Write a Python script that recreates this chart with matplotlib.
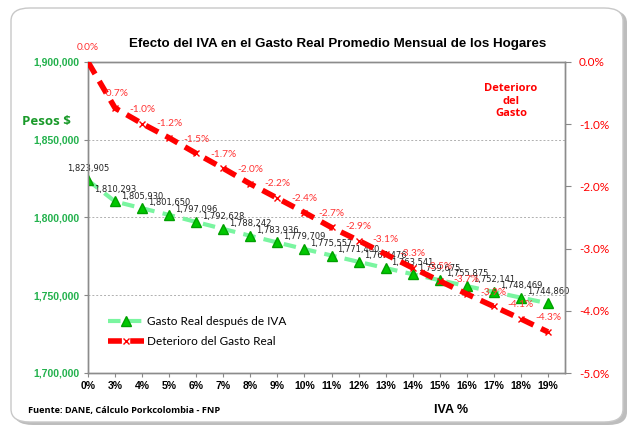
import matplotlib
matplotlib.use("Agg")

import matplotlib.pyplot as plt
from matplotlib.patches import FancyBboxPatch
from matplotlib.ticker import FuncFormatter

# =====================
# Datos
# =====================
iva = ["0%", "3%", "4%", "5%", "6%", "7%", "8%", "9%", "10%",
       "11%", "12%", "13%", "14%", "15%", "16%", "17%", "18%", "19%"]
gasto_real = [1823905, 1810293, 1805930, 1801650, 1797096, 1792628,
              1788242, 1783936, 1779709, 1775557, 1771480, 1767476,
              1763541, 1759675, 1755875, 1752141, 1748469, 1744860]
deterioro = [0.0, -0.74, -0.99, -1.22, -1.47, -1.71, -1.96, -2.19, -2.42,
             -2.66, -2.87, -3.09, -3.31, -3.52, -3.73, -3.93, -4.13, -4.34]

VERDE_TXT = "#22b14c"
VERDE_LINEA = "#7af5a0"
VERDE_MARCA = "#00c800"
ROJO = "#ff0000"
ROJO_TXT = "#ff3333"

x = list(range(len(iva)))

fig = plt.figure(figsize=(6.29, 4.29), dpi=100)

# marco redondeado
sombra = FancyBboxPatch((14 / 629, 4 / 429), 613 / 629, 415 / 429,
                        boxstyle="round,pad=0,rounding_size=0.03",
                        transform=fig.transFigure, fc="#bdbdbd", ec="none",
                        zorder=-3)
marco = FancyBboxPatch((11 / 629, 7 / 429), 612 / 629, 414 / 429,
                       boxstyle="round,pad=0,rounding_size=0.03",
                       transform=fig.transFigure, fc="white", ec="#c8c8c8",
                       lw=1, zorder=-2)
fig.patches.extend([sombra, marco])

ax = fig.add_axes([88 / 629, 1 - 373 / 429, 477 / 629, 311 / 429])
ax.set_facecolor("none")
ax2 = ax.twinx()

# --- eje izquierdo: pesos ---
ax.plot(x, gasto_real, linestyle=(0, (3, 2)), color=VERDE_LINEA, lw=3,
        marker="^", ms=7, mfc=VERDE_MARCA, mec="#00a000",
        label="Gasto Real después de IVA", zorder=3)
for xi, v in zip(x, gasto_real):
    ax.annotate(f"{v:,}", (xi, v), xytext=(0, 5.5), textcoords="offset points",
                ha="center", va="bottom", fontsize=6, color="#222222",
                family="DejaVu Sans", zorder=5)

ax.set_ylim(1700000, 1900000)
ax.set_yticks([1700000, 1750000, 1800000, 1850000, 1900000])
ax.yaxis.set_major_formatter(FuncFormatter(lambda v, p: f"{int(v):,}"))
ax.set_xlim(0, 17.63)
ax.set_xticks(x)
ax.set_xticklabels(iva)
for lab in ax.get_yticklabels():
    lab.set_color(VERDE_TXT)
    lab.set_fontweight("bold")
    lab.set_fontsize(7.5)
    lab.set_family("Liberation Sans")
for lab in ax.get_xticklabels():
    lab.set_fontweight("bold")
    lab.set_fontsize(7.5)
    lab.set_family("Liberation Sans")
ax.tick_params(axis="y", length=3, color="#888888", pad=3)
ax.tick_params(axis="x", length=3, color="#888888", pad=3)
ax.grid(axis="y", linestyle=(0, (2, 2)), color="#b0b0b0", lw=0.7)

# --- eje derecho: deterioro ---
ax2.plot(x, deterioro, linestyle=(0, (2.5, 1.5)), color=ROJO, lw=4,
         marker="x", ms=4, mec=ROJO, mew=1,
         label="Deterioro del Gasto Real", zorder=4)
for xi, v in zip(x, deterioro):
    ax2.annotate(f"{v:.1f}%", (xi, v), xytext=(0, 7), textcoords="offset points",
                 ha="center", va="bottom", fontsize=7.3, color=ROJO_TXT,
                 family="Lato", zorder=5)
ax2.set_ylim(-5, 0)
ax2.set_yticks([-5, -4, -3, -2, -1, 0])
ax2.yaxis.set_major_formatter(FuncFormatter(lambda v, p: f"{v:.1f}%"))
for lab in ax2.get_yticklabels():
    lab.set_color(ROJO)
    lab.set_fontsize(8.5)
    lab.set_family("Lato")
ax2.tick_params(axis="y", length=4, color="#888888", pad=6)

for a in (ax, ax2):
    for s in a.spines.values():
        s.set_color("#8c8c8c")
        s.set_linewidth(1)

# --- textos ---
fig.text(338 / 629, 1 - 44 / 429,
         "Efecto del IVA en el Gasto Real Promedio Mensual de los Hogares",
         ha="center", va="center", fontsize=9.6, fontweight="bold",
         family="Liberation Sans")
fig.text(46 / 629, 1 - 122 / 429, "Pesos $", ha="center", va="center",
         fontsize=9.5, fontweight="bold", color="#1a9a2a", family="Open Sans")
fig.text(511 / 629, 1 - 101 / 429, "Deterioro\ndel\nGasto", ha="center",
         va="center", fontsize=8, fontweight="bold", color=ROJO,
         family="Open Sans", linespacing=1.2)
fig.text(451 / 629, 1 - 410 / 429, "IVA %", ha="center", va="center",
         fontsize=9, fontweight="bold", family="Liberation Sans")
fig.text(28 / 629, 1 - 410 / 429, "Fuente: DANE, Cálculo Porkcolombia - FNP",
         ha="left", va="center", fontsize=6.6, fontweight="bold",
         family="Open Sans")

h1, l1 = ax.get_legend_handles_labels()
h2, l2 = ax2.get_legend_handles_labels()
leg = ax2.legend(h1 + h2, l1 + l2, loc="lower left",
                 bbox_to_anchor=(0.02, 0.05), frameon=False,
                 prop={"family": "Lato", "size": 8.5}, handlelength=3,
                 handletextpad=0.3, labelspacing=0.75)
leg.set_zorder(10)

plt.savefig("out.png", dpi=100)
